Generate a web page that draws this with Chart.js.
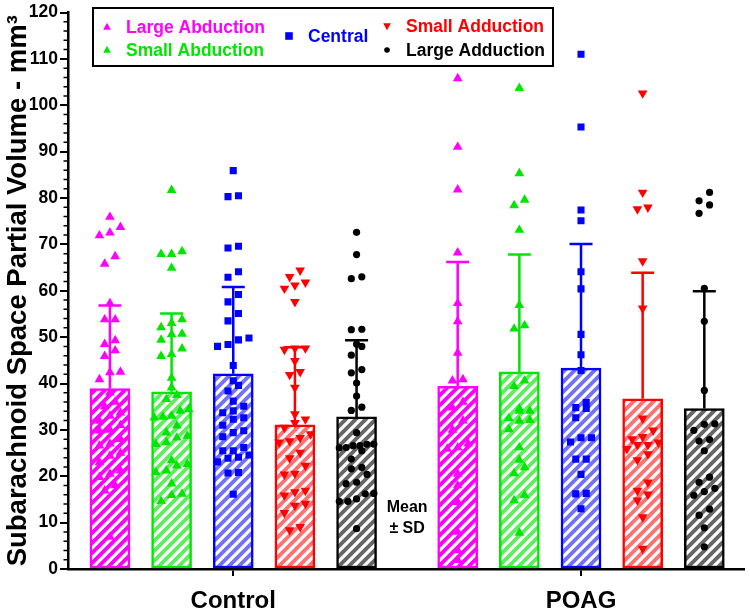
<!DOCTYPE html>
<html>
<head>
  <title>Subarachnoid Space Partial Volume</title>
  <script src="https://cdn.jsdelivr.net/npm/chart.js"></script>
  <style>
    body { margin: 0; background: #fff; }
  </style>
</head>
<body>
  <canvas id="chart" width="750" height="610"></canvas>

  <script>
    // x axis groups
    var groupLabels = ["Control", "POAG"];
    var groupCenters = [2.68, 8.32];
    var barOffsets = [-2, -1, 0, 1, 2];

    var seriesNames = ["Large Abduction", "Small Abduction", "Central", "Small Adduction", "Large Adduction"];

    // bar heights (mean) and error bars (SD), [Control, POAG]
    var meanLargeAbd = [38.9, 39.4];
    var meanSmallAbd = [38.2, 42.5];
    var meanCentral = [42.1, 43.3];
    var meanSmallAdd = [31.1, 36.7];
    var meanLargeAdd = [32.8, 34.6];

    var sdLargeAbd = [17.9, 26.8];
    var sdSmallAbd = [16.9, 25.3];
    var sdCentral = [18.7, 26.8];
    var sdSmallAdd = [16.7, 27.2];
    var sdLargeAdd = [16.5, 25.3];

    // individual eyes
    var ctrlLargeAbd = [75.9, 73.7, 72.5, 71.9, 67.4, 65.8, 57.3, 53.8, 53.8, 49.3, 48.5, 47.1, 45.9, 42.5, 42.4, 40.9,
      38, 36, 35, 33.7, 33, 31.9, 31, 30, 29.8, 28, 27, 26.6, 25, 24.4, 23, 21.2, 20.5, 19.8, 18, 16.9, 6.9];
    var ctrlSmallAbd = [81.7, 68.5, 67.9, 67.9, 64.9, 53.8, 53.0, 52.1, 50.7, 50.6, 49.4, 47.5, 46.3, 45.9, 41.2, 39.1,
      37.5, 36.6, 34.4, 34.1, 33.0, 32.8, 32.6, 30.9, 29.4, 28.7, 28.3, 27.3, 26.9, 23.4, 22.6, 22.3, 21.2, 20.8, 18.4,
      16.2, 15.9, 14.6];
    var ctrlCentral = [85.9, 80.5, 80.3, 69.6, 69.2, 64.1, 62.9, 59.2, 57.6, 55.1, 53.5, 49.8, 49.4, 48.4, 48.0, 43.9,
      40.6, 39.6, 38.4, 36.2, 35.1, 34.1, 33.7, 32.6, 32.3, 31.0, 29.8, 29.4, 28.5, 26.2, 25.5, 25.5, 24.6, 24.1, 23.9,
      23.1, 20.8, 20.7, 16.1];
    var ctrlSmallAdd = [64.4, 63.0, 61.8, 61.2, 60.5, 57.6, 47.6, 47.6, 47.3, 44.9, 42.5, 41.9, 39.1, 33.4, 32.3, 31.5,
      30.5, 29.1, 28.3, 27.6, 27.3, 25.1, 23.9, 22.3, 20.6, 20.4, 16.9, 16.6, 15.9, 14.1, 13.7, 12.1, 9.1, 8.4];
    var ctrlLargeAdd = [72.6, 67.8, 63.0, 62.6, 51.7, 51.6, 48.5, 48.0, 46.1, 43.0, 42.3, 40.1, 37.3, 34.9, 34.2, 29.4,
      26.9, 26.9, 26.6, 26.6, 26.2, 26.1, 25.5, 23.7, 21.9, 21.6, 20.4, 18.7, 18.4, 16.3, 16.2, 15.1, 14.6, 14.6, 8.7];

    var poagLargeAbd = [105.8, 91.0, 81.8, 68.2, 57.3, 53.4, 46.6, 40.9, 40.6, 36, 34.8, 32, 30, 27, 26.2, 25.9, 20.5,
      18, 14.4, 8, 4, 1.9];
    var poagSmallAbd = [103.7, 85.3, 79.6, 78.4, 73.1, 56.9, 52.5, 51.8, 40.6, 39.4, 34.6, 34.1, 34.1, 32.5, 32.1, 31.9,
      30.1, 26.2, 23.5, 21.9, 20.6, 15.9, 14.8, 7.8];
    var poagCentral = [111, 95.3, 77.4, 75.1, 64.1, 60.4, 50.6, 46.2, 42.8, 35.9, 34.8, 34.6, 32.6, 28.3, 28.3, 27.4,
      23.7, 23.7, 20.4, 16.3, 16.2, 13.0];
    var poagSmallAdd = [102.6, 81.2, 78.0, 77.6, 66.4, 56.2, 32.5, 29.9, 28.5, 28.0, 27.3, 26.8, 26.8, 25.9, 24.8, 23.5,
      18.7, 16.9, 16.1, 14.8, 11.2, 4.4];
    var poagLargeAdd = [81.2, 79.4, 78.5, 76.7, 60.5, 53.4, 38.5, 31.3, 31.2, 29.9, 27.9, 27.6, 25.5, 19.8, 18.7, 17.4,
      16.7, 15.9, 12.9, 11.6, 8.9, 4.8];

    var yTicks = [0, 120, 10];

    var means = [meanLargeAbd, meanSmallAbd, meanCentral, meanSmallAdd, meanLargeAdd];
    var sds = [sdLargeAbd, sdSmallAbd, sdCentral, sdSmallAdd, sdLargeAdd];
    var points = [[ctrlLargeAbd, poagLargeAbd], [ctrlSmallAbd, poagSmallAbd], [ctrlCentral, poagCentral],
      [ctrlSmallAdd, poagSmallAdd], [ctrlLargeAdd, poagLargeAdd]];

    var colors = ["#ff00ff", "#00e600", "#0000ff", "#ff0000", "#000000"];
    var fills = ["#ff00ff", "#5cef5c", "#7272ff", "#ff7272", "#666666"];
    var shapes = ["triangle", "triangle", "rect", "triangle", "circle"];
    var rotations = [0, 0, 0, 180, 0];
    var radii = [5.6, 5.6, 5, 5.6, 3.6];
    var FONT = '"Liberation Sans", Arial, sans-serif';

    var canvas = document.getElementById("chart");
    var ctx = canvas.getContext("2d");

    // white diagonal hatching over the bar colour
    function stripes(color) {
      var c = document.createElement("canvas");
      c.width = 10;
      c.height = 10;
      var g = c.getContext("2d");
      g.fillStyle = color;
      g.fillRect(0, 0, 10, 10);
      g.strokeStyle = "#ffffff";
      g.lineWidth = 3.2;
      g.beginPath();
      g.moveTo(-2, 12); g.lineTo(12, -2);
      g.moveTo(-2, 2); g.lineTo(2, -2);
      g.moveTo(8, 12); g.lineTo(12, 8);
      g.stroke();
      return ctx.createPattern(c, "repeat");
    }

    // spread points of similar value sideways, like a column scatter
    function swarm(values, center) {
      var sorted = values.slice().sort(function (a, b) { return a - b; });
      var rows = [], row = [];
      sorted.forEach(function (v) {
        if (row.length && v - row[0] > 2) { rows.push(row); row = []; }
        row.push(v);
      });
      if (row.length) rows.push(row);
      var out = [];
      rows.forEach(function (r) {
        var step = r.length > 1 ? Math.min(0.17, 0.56 / (r.length - 1)) : 0;
        r.forEach(function (v, i) {
          out.push({ x: center + (i - (r.length - 1) / 2) * step, y: v });
        });
      });
      return out;
    }

    var datasets = [];
    seriesNames.forEach(function (name, s) {
      datasets.push({
        type: "bar",
        label: name,
        data: groupCenters.map(function (c, g) { return { x: c + barOffsets[s], y: means[s][g] }; }),
        backgroundColor: stripes(fills[s]),
        borderColor: colors[s],
        borderWidth: 2.5,
        borderSkipped: false,
        barThickness: 40,
        grouped: false,
        order: 2,
        sd: sds[s]
      });
    });
    seriesNames.forEach(function (name, s) {
      var pts = [];
      groupCenters.forEach(function (c, g) {
        pts = pts.concat(swarm(points[s][g], c + barOffsets[s]));
      });
      datasets.push({
        type: "scatter",
        label: name,
        data: pts,
        pointStyle: shapes[s],
        rotation: rotations[s],
        pointRadius: radii[s],
        backgroundColor: colors[s],
        borderColor: colors[s],
        borderWidth: 0,
        order: 1
      });
    });

    var errorBars = {
      id: "errorBars",
      afterDatasetDraw: function (chart, args) {
        var meta = args.meta;
        if (meta.type !== "bar") return;
        var ds = chart.data.datasets[args.index];
        var ys = chart.scales.y, c = chart.ctx;
        c.save();
        c.strokeStyle = ds.borderColor;
        c.lineWidth = 2.5;
        meta.data.forEach(function (bar, i) {
          var base = ys.getPixelForValue(ds.data[i].y);
          var top = ys.getPixelForValue(ds.data[i].y + ds.sd[i]);
          c.beginPath();
          c.moveTo(bar.x, base); c.lineTo(bar.x, top);
          c.moveTo(bar.x - 11.5, top); c.lineTo(bar.x + 11.5, top);
          c.stroke();
        });
        c.restore();
      }
    };

    function marker(c, shape, rot, r, x, y, color) {
      c.fillStyle = color;
      c.beginPath();
      if (shape === "circle") {
        c.arc(x, y, r, 0, Math.PI * 2);
      } else if (shape === "rect") {
        c.rect(x - r, y - r, 2 * r, 2 * r);
      } else {
        var d = rot ? -1 : 1;
        c.moveTo(x, y - d * r * 1.1);
        c.lineTo(x + r, y + d * r * 0.75);
        c.lineTo(x - r, y + d * r * 0.75);
        c.closePath();
      }
      c.fill();
    }

    var extras = {
      id: "extras",
      afterDraw: function (chart) {
        var c = chart.ctx, ys = chart.scales.y, xs = chart.scales.x;
        c.save();
        // minor ticks on the y axis
        c.strokeStyle = "#000";
        c.lineWidth = 1.5;
        c.beginPath();
        for (var v = yTicks[0]; v <= yTicks[1]; v += 2) {
          if (v % yTicks[2] === 0) continue;
          var py = ys.getPixelForValue(v);
          c.moveTo(ys.right, py);
          c.lineTo(ys.right - 4.5, py);
        }
        c.stroke();

        // legend box
        c.lineWidth = 2;
        c.strokeRect(93, 8, 460, 58);
        var spots = [[107, 27], [107, 50], [289, 36], [387, 26], [387, 50]];
        c.font = "bold 17.5px " + FONT;
        c.textBaseline = "middle";
        c.textAlign = "left";
        seriesNames.forEach(function (name, s) {
          var p = spots[s];
          marker(c, shapes[s], rotations[s], shapes[s] === "circle" ? 2.8 : 3.8, p[0], p[1], colors[s]);
          c.fillStyle = colors[s];
          c.fillText(name, p[0] + 19, p[1] + 1);
        });

        // "Mean ± SD" note between the groups
        var mx = xs.getPixelForValue((groupCenters[0] + barOffsets[4] + groupCenters[1] + barOffsets[0]) / 2);
        c.fillStyle = "#000";
        c.textAlign = "center";
        c.font = "bold 16px " + FONT;
        c.fillText("Mean", mx, ys.getPixelForValue(13.3));
        c.fillText("\u00b1 SD", mx, ys.getPixelForValue(8.8));
        c.restore();
      }
    };

    Chart.defaults.font.family = FONT;
    Chart.defaults.color = "#000";

    new Chart(ctx, {
      type: "bar",
      data: { datasets: datasets },
      options: {
        responsive: false,
        animation: false,
        events: [],
        layout: { padding: { top: 8, right: 2, left: 0, bottom: 0 } },
        plugins: {
          legend: { display: false },
          tooltip: { enabled: false }
        },
        scales: {
          x: {
            type: "linear",
            min: 0,
            max: 10.97,
            offset: false,
            afterBuildTicks: function (scale) {
              scale.ticks = groupCenters.map(function (v) { return { value: v }; });
            },
            afterFit: function (scale) { scale.height = 41; },
            ticks: {
              callback: function (value, index) { return groupLabels[index]; },
              font: { size: 24, weight: "bold" },
              padding: 11,
              maxRotation: 0,
              autoSkip: false
            },
            grid: { offset: false, drawOnChartArea: false, drawTicks: true, tickLength: 7, color: "#000", lineWidth: 2 },
            border: { display: true, color: "#000", width: 2.5 }
          },
          y: {
            min: yTicks[0],
            max: yTicks[1],
            afterFit: function (scale) { scale.width = 68; },
            ticks: { stepSize: yTicks[2], font: { size: 17.5, weight: "bold" }, padding: 2 },
            grid: { drawOnChartArea: false, drawTicks: true, tickLength: 8, color: "#000", lineWidth: 2 },
            border: { display: true, color: "#000", width: 2.5 },
            title: {
              display: true,
              text: "Subarachnoid Space Partial Volume - mm\u00b3",
              font: { size: 27.5, weight: "bold" },
              padding: { top: 2, bottom: 0 }
            }
          }
        }
      },
      plugins: [errorBars, extras]
    });
  </script>
</body>
</html>
